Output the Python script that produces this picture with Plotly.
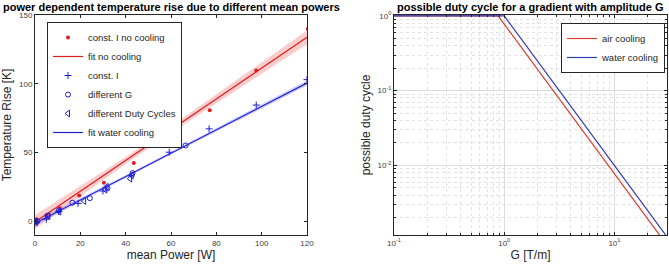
import plotly.graph_objects as go

# ---------------- data: left panel ----------------
noc_x = [0.7, 5.1, 11.0, 19.5, 30.4, 43.6, 59.2, 77.1, 97.6, 120.4]
noc_y = [1.4, 4.3, 9.4, 18.8, 28.0, 42.3, 60.1, 80.7, 109.6, 140.0]

constI_x = [0.5, 5.0, 10.5, 19.0, 30.0, 42.5, 59.2, 76.8, 97.6, 120.0]
constI_y = [-1.0, 1.5, 7.0, 13.0, 22.0, 33.0, 50.2, 67.2, 84.5, 103.0]

diffG_x = [0.0, 1.0, 5.5, 10.5, 16.5, 24.2, 32.0, 43.0, 66.4]
diffG_y = [0.0, 0.0, 4.0, 8.0, 13.5, 16.8, 24.0, 35.0, 55.1]

duty_x = [0.5, 5.9, 10.7, 21.7, 31.0, 31.6, 42.0, 42.7]
duty_y = [-0.5, 3.8, 7.0, 14.7, 23.0, 25.0, 31.0, 33.5]

fit_x = [0, 120]
fit_noc_y = [-0.6, 133.8]
fit_wat_y = [-1.5, 100.5]

band_x = [0, 20, 40, 60, 80, 100, 120]
band_noc_up = [4.5, 25.3, 46.7, 69.1, 92.2, 115.6, 138.8]
band_noc_lo = [-5.6, 18.3, 41.7, 64.1, 85.8, 107.2, 128.8]
band_wat_up = [0.3, 16.7, 33.5, 50.5, 67.7, 85.0, 102.3]
band_wat_lo = [-3.3, 14.3, 31.5, 48.5, 65.3, 82.0, 98.7]

left_xticks = [0, 20, 40, 60, 80, 100, 120]
left_yticks = [0, 50, 100, 150]

# ---------------- data: right panel ----------------
air_G = [0.1, 0.88, 30.0]
air_dc = [1.0, 1.0, 0.00086]
water_G = [0.1, 1.0, 30.0]
water_dc = [1.0, 1.0, 0.00111]

right_xticks = [0.1, 1, 10]
right_xlabels = ["10<sup>-1</sup>", "10<sup>0</sup>", "10<sup>1</sup>"]
right_yticks = [0.01, 0.1, 1]
right_ylabels = ["10<sup>-2</sup>", "10<sup>-1</sup>", "10<sup>0</sup>"]
right_xminor = [0.2, 0.3, 0.4, 0.5, 0.6, 0.7, 0.8, 0.9,
                2, 3, 4, 5, 6, 7, 8, 9, 20, 30]
right_yminor = [0.002, 0.003, 0.004, 0.005, 0.006, 0.007, 0.008, 0.009,
                0.02, 0.03, 0.04, 0.05, 0.06, 0.07, 0.08, 0.09,
                0.2, 0.3, 0.4, 0.5, 0.6, 0.7, 0.8, 0.9]

RED = "rgb(225,30,30)"
BLUE = "rgb(30,30,215)"
RED2 = "rgb(220,60,45)"
BLUE2 = "rgb(50,60,190)"
FONT = "Liberation Sans, Arial, sans-serif"

fig = go.Figure()

# bands
fig.add_trace(go.Scatter(x=band_x, y=band_noc_lo, mode="lines", line=dict(width=0),
                         showlegend=False, hoverinfo="skip", xaxis="x", yaxis="y"))
fig.add_trace(go.Scatter(x=band_x, y=band_noc_up, mode="lines", line=dict(width=0),
                         fill="tonexty", fillcolor="rgba(240,90,90,0.30)",
                         showlegend=False, hoverinfo="skip", xaxis="x", yaxis="y"))
fig.add_trace(go.Scatter(x=band_x, y=band_wat_lo, mode="lines", line=dict(width=0),
                         showlegend=False, hoverinfo="skip", xaxis="x", yaxis="y"))
fig.add_trace(go.Scatter(x=band_x, y=band_wat_up, mode="lines", line=dict(width=0),
                         fill="tonexty", fillcolor="rgba(90,90,240,0.30)",
                         showlegend=False, hoverinfo="skip", xaxis="x", yaxis="y"))

# legend-ordered traces
fig.add_trace(go.Scatter(x=noc_x, y=noc_y, mode="markers", name="const. I no cooling",
                         marker=dict(symbol="circle", size=4, color=RED),
                         legend="legend", xaxis="x", yaxis="y"))
fig.add_trace(go.Scatter(x=fit_x, y=fit_noc_y, mode="lines", name="fit no cooling",
                         line=dict(color=RED, width=1.2),
                         legend="legend", xaxis="x", yaxis="y"))
fig.add_trace(go.Scatter(x=constI_x, y=constI_y, mode="markers", name="const. I",
                         marker=dict(symbol="cross-thin", size=5, color=BLUE,
                                     line=dict(color=BLUE, width=1)),
                         legend="legend", xaxis="x", yaxis="y"))
fig.add_trace(go.Scatter(x=diffG_x, y=diffG_y, mode="markers", name="different G",
                         marker=dict(symbol="circle-open", size=5, color=BLUE,
                                     line=dict(color=BLUE, width=1)),
                         legend="legend", xaxis="x", yaxis="y"))
fig.add_trace(go.Scatter(x=duty_x, y=duty_y, mode="markers", name="different Duty Cycles",
                         marker=dict(symbol="triangle-left-open", size=6, color=BLUE,
                                     line=dict(color=BLUE, width=1)),
                         legend="legend", xaxis="x", yaxis="y"))
fig.add_trace(go.Scatter(x=fit_x, y=fit_wat_y, mode="lines", name="fit water cooling",
                         line=dict(color=BLUE, width=1.2),
                         legend="legend", xaxis="x", yaxis="y"))

# right panel
fig.add_trace(go.Scatter(x=air_G, y=air_dc, mode="lines", name="air cooling",
                         line=dict(color=RED2, width=1.2),
                         legend="legend2", xaxis="x2", yaxis="y2"))
fig.add_trace(go.Scatter(x=water_G, y=water_dc, mode="lines", name="water cooling",
                         line=dict(color=BLUE2, width=1.2),
                         legend="legend2", xaxis="x2", yaxis="y2"))

W, H = 669, 266
ytop = 1 - 15 / H
ybot = 1 - 235 / H

axis_common = dict(showline=True, linecolor="#262626", linewidth=1, mirror="ticks",
                   ticks="inside", ticklen=3, tickcolor="#262626",
                   tickfont=dict(size=8, color="#404040", family=FONT),
                   zeroline=False, automargin=False)

fig.update_layout(
    width=W, height=H,
    margin=dict(l=0, r=0, t=0, b=0, autoexpand=False),
    paper_bgcolor="white", plot_bgcolor="white",
    font=dict(family=FONT, color="#262626"),
    xaxis=dict(domain=[35 / W, 307 / W], range=[0, 120], tickvals=left_xticks,
               showgrid=False, anchor="y",
               title=dict(text="mean Power [W]", font=dict(size=12), standoff=4),
               **axis_common),
    yaxis=dict(domain=[ybot, ytop], range=[-10, 150], tickvals=left_yticks,
               showgrid=False, anchor="x",
               title=dict(text="Temperature Rise [K]", font=dict(size=12), standoff=6),
               **axis_common),
    xaxis2=dict(domain=[394 / W, 667 / W], type="log", range=[-1, 1.477],
                tickvals=right_xticks, ticktext=right_xlabels, anchor="y2",
                showgrid=True, gridcolor="#dcdcdc",
                minor=dict(tickvals=right_xminor, showgrid=True, gridcolor="#e2e2e2",
                           griddash="dot", ticks="inside", ticklen=2,
                           tickcolor="#262626"),
                title=dict(text="G [T/m]", font=dict(size=12), standoff=4),
                **axis_common),
    yaxis2=dict(domain=[ybot, ytop], type="log", range=[-2.93, 0.012],
                tickvals=right_yticks, ticktext=right_ylabels, anchor="x2",
                showgrid=True, gridcolor="#dcdcdc",
                minor=dict(tickvals=right_yminor, showgrid=True, gridcolor="#e2e2e2",
                           griddash="dot", ticks="inside", ticklen=2,
                           tickcolor="#262626"),
                title=dict(text="possible duty cycle", font=dict(size=12), standoff=4),
                **axis_common),
    legend=dict(x=47 / W, y=1 - 22 / H, xanchor="left", yanchor="top",
                bgcolor="white", bordercolor="#262626", borderwidth=1,
                font=dict(size=9.5, color="#262626"), itemwidth=30,
                traceorder="normal", tracegroupgap=0),
    legend2=dict(x=665 / W, y=1 - 23 / H, xanchor="right", yanchor="top",
                 bgcolor="white", bordercolor="#262626", borderwidth=1,
                 font=dict(size=9.5, color="#262626"), itemwidth=30,
                 traceorder="normal"),
    annotations=[
        dict(text="<b>power dependent temperature rise due to different mean powers</b>",
             x=171 / W, y=1 - 7 / H, xref="paper", yref="paper",
             xanchor="center", yanchor="middle", showarrow=False,
             font=dict(size=11, color="black")),
        dict(text="<b>possible duty cycle for a gradient with amplitude G</b>",
             x=530 / W, y=1 - 7 / H, xref="paper", yref="paper",
             xanchor="center", yanchor="middle", showarrow=False,
             font=dict(size=11, color="black")),
    ],
)

fig.write_html("out.html",
               config={"displayModeBar": False},
               post_script="document.body.style.margin='0';"
                           "document.body.style.overflow='hidden';")
